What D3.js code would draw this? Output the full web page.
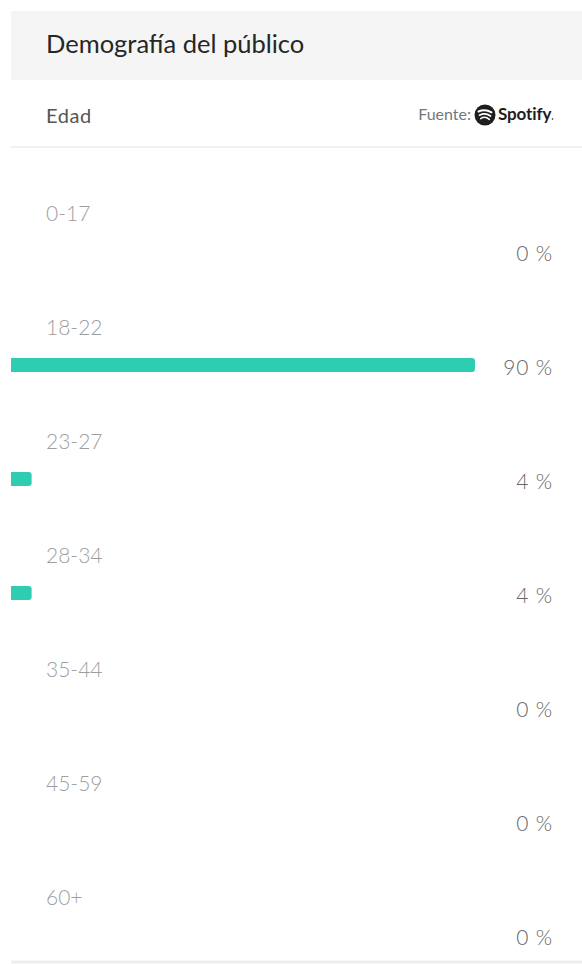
<!DOCTYPE html>
<html>
<head>
<meta charset="utf-8">
<script src="https://cdn.jsdelivr.net/npm/d3@7"></script>
<style>
  body { margin: 0; background: #fff; font-family: Lato, "Open Sans", sans-serif; }
  svg { display: block; }
</style>
</head>
<body>
<div id="grafico"></div>
<script>
// datos del gráfico
const edades = ["0-17", "18-22", "23-27", "28-34", "35-44", "45-59", "60+"];
const porcentajes = [0, 90, 4, 4, 0, 0, 0];
const titulo = "Demografía del público";
const subtitulo = "Edad";

const ancho = 582, alto = 964;
const svg = d3.select("#grafico").append("svg")
  .attr("width", ancho).attr("height", alto);

// cabecera
svg.append("rect").attr("x", 11).attr("y", 12).attr("width", ancho - 11).attr("height", 68)
  .attr("fill", "#f5f5f5");
svg.append("line").attr("x1", 11).attr("x2", ancho).attr("y1", 12).attr("y2", 12)
  .attr("stroke", "#ececec");
svg.append("text").attr("x", 46).attr("y", 53)
  .attr("font-size", 25.5).attr("fill", "#262626").text(titulo);

svg.append("text").attr("x", 46).attr("y", 123)
  .attr("font-size", 20).attr("fill", "#555").attr("letter-spacing", 0.6).text(subtitulo);

// fuente: spotify
svg.append("text").attr("x", 471).attr("y", 120).attr("text-anchor", "end")
  .attr("font-size", 16).attr("fill", "#777").text("Fuente:");
const logo = svg.append("g").attr("transform", "translate(485,115)");
logo.append("circle").attr("r", 10.5).attr("fill", "#1e1e1e");
[[-3.5, 6.5, 2], [0.2, 5.5, 1.7], [3.6, 4.3, 1.5]].forEach(([dy, w, sw]) => {
  logo.append("path")
    .attr("d", `M${-w},${dy} Q0,${dy - 3} ${w},${dy + 0.8}`)
    .attr("fill", "none").attr("stroke", "#fff").attr("stroke-width", sw)
    .attr("stroke-linecap", "round");
});
svg.append("text").attr("x", 498).attr("y", 120)
  .attr("font-size", 17).attr("font-weight", 700).attr("fill", "#1e1e1e")
  .attr("letter-spacing", -0.1).text("Spotify");
svg.append("circle").attr("cx", 552.5).attr("cy", 119).attr("r", 0.8).attr("fill", "#1e1e1e");

svg.append("line").attr("x1", 11).attr("x2", ancho).attr("y1", 147).attr("y2", 147)
  .attr("stroke", "#f0f0f0").attr("stroke-width", 2);

// escalas
const y = d3.scaleBand().domain(edades).range([170, 170 + 114 * edades.length]);
const x = d3.scaleLinear().domain([0, 90]).range([11, 475]);

svg.append("defs").append("clipPath").attr("id", "recorte")
  .append("rect").attr("x", 11).attr("y", 0).attr("width", ancho).attr("height", alto);

const filas = svg.selectAll(".fila").data(edades.map((e, i) => ({ edad: e, valor: porcentajes[i] })))
  .enter().append("g").attr("class", "fila");

filas.append("text")
  .attr("x", 46).attr("y", d => y(d.edad) + 51)
  .attr("font-size", 21).attr("fill", "#9e9e9e").attr("font-weight", 300)
  .text(d => d.edad);

filas.filter(d => d.valor > 0).append("rect")
  .attr("clip-path", "url(#recorte)")
  .attr("x", x(0) - 6).attr("y", d => y(d.edad) + 74)
  .attr("width", d => x(d.valor) - x(0) + 6).attr("height", 14)
  .attr("rx", 3).attr("fill", "#2ecdb2");

filas.append("text")
  .attr("x", 553).attr("y", d => y(d.edad) + 91).attr("text-anchor", "end")
  .attr("font-size", 21).attr("fill", "#666").attr("font-weight", 300)
  .attr("letter-spacing", 0.8)
  .text(d => `${d.valor} %`);

svg.append("line").attr("x1", 11).attr("x2", ancho).attr("y1", 962).attr("y2", 962)
  .attr("stroke", "#eee").attr("stroke-width", 3);
</script>
</body>
</html>
